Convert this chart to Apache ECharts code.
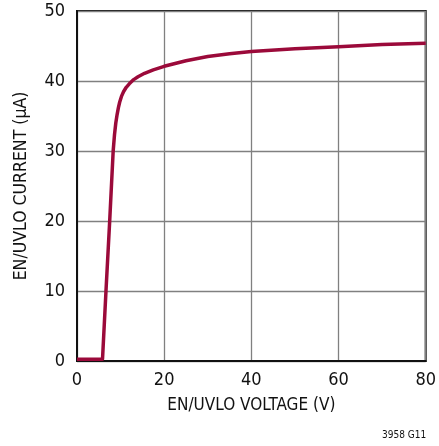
<!DOCTYPE html>
<html>
<head>
<meta charset="utf-8">
<script src="https://cdn.jsdelivr.net/npm/echarts@6/dist/echarts.min.js"></script>
<style>html,body{margin:0;padding:0;background:#fff;}#c{width:439px;height:446px;}</style>
</head>
<body>
<div id="c"></div>
<script>
var voltage = [0, 5.85, 6.65, 7.5, 8.3, 8.6, 8.9, 9.2, 9.5, 9.8, 10.2, 10.7, 11.3, 12.0, 13.0, 14.0, 15.5, 17.5, 20, 22.5, 25, 30, 35, 40, 50, 60, 70, 80];
var current = [0.25, 0.25, 10, 20, 30, 32.3, 34.0, 35.2, 36.2, 37.0, 37.8, 38.5, 39.1, 39.6, 40.2, 40.6, 41.1, 41.6, 42.1, 42.5, 42.9, 43.5, 43.9, 44.2, 44.6, 44.9, 45.2, 45.4];
var xTicks = [0, 20, 40, 60, 80];
var yTicks = [0, 10, 20, 30, 40, 50];

var pts = voltage.map(function (v, i) { return [v, current[i]]; });
var chart = echarts.init(document.getElementById('c'), null, {renderer: 'canvas'});
var font = '"DejaVu Sans Condensed", "Liberation Sans Narrow", Arial, sans-serif';
chart.setOption({
  animation: false,
  grid: {left: 77, right: 11, top: 11, bottom: 85, show: true, borderColor: '#111', borderWidth: 2, backgroundColor: 'transparent'},
  xAxis: {
    type: 'value', min: xTicks[0], max: xTicks[xTicks.length - 1], interval: 20,
    name: 'EN/UVLO VOLTAGE (V)', nameLocation: 'middle', nameGap: 36,
    nameTextStyle: {fontFamily: font, fontSize: 17, color: '#111'},
    axisLine: {show: true, lineStyle: {color: '#111', width: 2}},
    axisTick: {show: false},
    axisLabel: {fontFamily: font, fontSize: 18, color: '#111', margin: 10},
    splitLine: {show: true, lineStyle: {color: '#808080', width: 1.3}}
  },
  yAxis: {
    type: 'value', min: yTicks[0], max: yTicks[yTicks.length - 1], interval: 10,
    name: 'EN/UVLO CURRENT (µA)', nameLocation: 'middle', nameGap: 47,
    nameTextStyle: {fontFamily: font, fontSize: 17.5, color: '#111'},
    axisLine: {show: true, lineStyle: {color: '#111', width: 2}},
    axisTick: {show: false},
    axisLabel: {fontFamily: font, fontSize: 18, color: '#111', margin: 12},
    splitLine: {show: true, lineStyle: {color: '#808080', width: 1.3}}
  },
  series: [{
    type: 'line', data: pts, showSymbol: false, smooth: false,
    lineStyle: {color: '#9b0a3a', width: 3.5, join: 'round'}
  }],
  graphic: [{
    type: 'text', left: 382, top: 430,
    style: {text: '3958 G11', font: '10px ' + font, fill: '#111'}
  }]
});
</script>
</body>
</html>
